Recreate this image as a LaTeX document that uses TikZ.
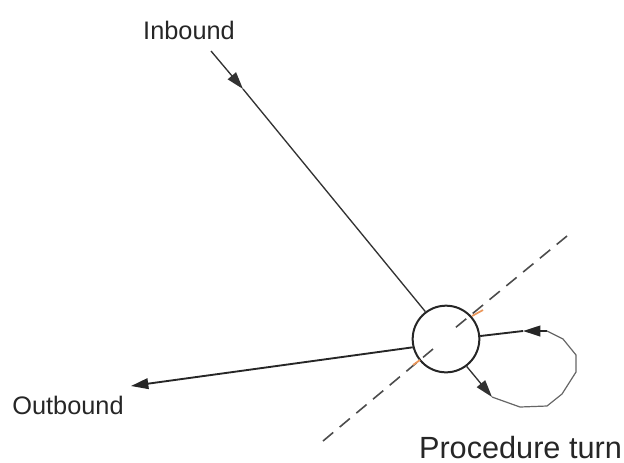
\documentclass[tikz,border=0pt]{standalone}
\usepackage{fontspec}
\setmainfont{Liberation Sans}
\usetikzlibrary{arrows.meta}
\definecolor{inkgray}{RGB}{50,50,50}
\definecolor{tickorange}{RGB}{235,150,90}
\tikzstyle{line} = [draw=inkgray, line width=1pt]
\tikzstyle{heavy} = [draw=black!85, line width=1.4pt]
\tikzstyle{thin} = [draw=black!60, line width=.9pt]
\tikzstyle{head} = [-{Triangle[length=13pt,width=8pt]}]
\tikzstyle{guide} = [draw=black!70, line width=1.2pt, dash pattern=on 10pt off 6.3pt]
\tikzstyle{tick} = [draw=tickorange, line width=1.3pt]
\tikzstyle{label} = [inner sep=0pt, text=black!85]

\begin{document}
\begin{tikzpicture}[x=.75pt, y=-.75pt]
        \useasboundingbox (0,0) rectangle (624,462);
        \node[draw=black!85, circle, line width=1.5pt, minimum size=50pt, inner sep=0pt] (fix) at (446,339) {};
        \node[label, font=\fontsize{19}{22}\selectfont] (inbound) at (189,30) {Inbound};
        \node[label, font=\fontsize{19}{22}\selectfont] (outbound) at (68,405) {Outbound};
        \node[label, font=\fontsize{23}{26}\selectfont] (turn) at (520.5,447.5) {Procedure turn};
        % free ends of the lines
        \coordinate (instart) at (211,51);
        \coordinate (intip) at (243,89);
        \coordinate (outtip) at (131,386);
        \coordinate (dashtop) at (567,236);
        \coordinate (dashtopin) at (455,328);
        \coordinate (dashlow) at (323,441);
        \coordinate (dashlowin) at (433,349);
        \coordinate (ticktopa) at (472,316);
        \coordinate (ticktopb) at (483,310);
        \coordinate (ticklowa) at (413,365);
        \coordinate (ticklowb) at (420,360);
        % the loop
        \coordinate (looptip) at (523,331);
        \coordinate (loopa) at (547,331);
        \coordinate (loopb) at (563,339);
        \coordinate (loopc) at (576,355);
        \coordinate (loopd) at (576,372);
        \coordinate (loope) at (562,394);
        \coordinate (loopf) at (547,406);
        \coordinate (loopg) at (520,407);
        \coordinate (looph) at (492,397);
        \path[line, head] (instart) -- (intip);
        \path[line] (intip) -- (fix.127);
        \path[heavy, head] (fix.194) -- (outtip);
        \path[guide] (dashtop) -- (dashtopin);
        \path[guide] (dashlow) -- (dashlowin);
        \path[tick] (ticktopa) -- (ticktopb);
        \path[tick] (ticklowa) -- (ticklowb);
        \path[heavy, head] (loopa) -- (looptip);
        \path[heavy] (looptip) -- (fix.5);
        \path[line, head] (fix.-53) -- (looph);
        \path[thin] (loopa) -- (loopb) -- (loopc) -- (loopd) -- (loope) -- (loopf) -- (loopg) -- (looph);
    \end{tikzpicture}
\end{document}
